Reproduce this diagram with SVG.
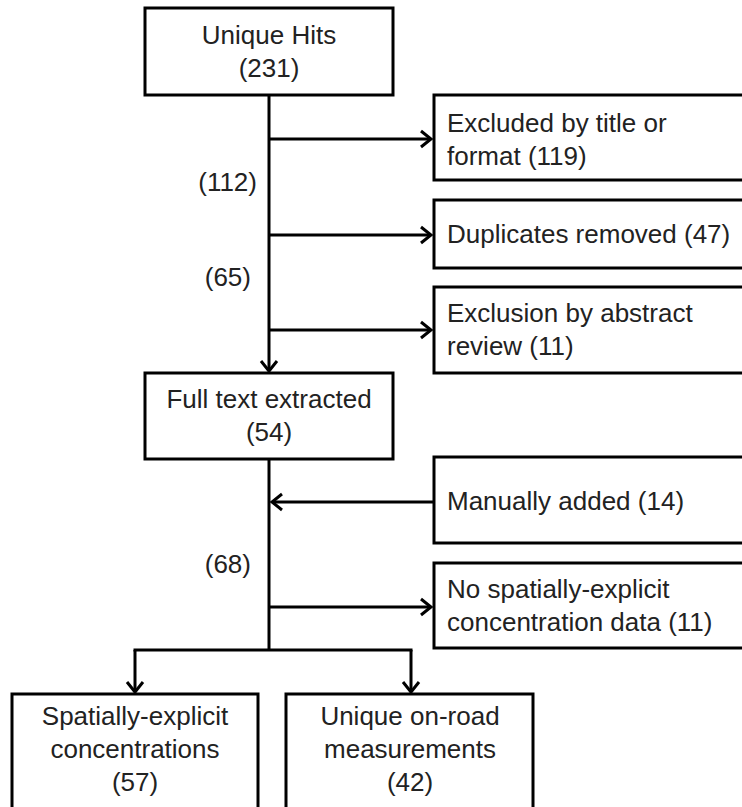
<svg xmlns="http://www.w3.org/2000/svg" width="742" height="807" viewBox="0 0 742 807">
<defs>
<style>
.box{fill:#fff;stroke:#000;stroke-width:3}
.ln{fill:none;stroke:#000;stroke-width:3}
text{font-family:"Liberation Sans",Arial,sans-serif;font-size:26px;fill:#222}
.c{text-anchor:middle}
.r{text-anchor:end}
</style>
<marker id="ah" markerUnits="userSpaceOnUse" markerWidth="20" markerHeight="20" refX="12" refY="10" orient="auto">
<polyline points="2,2 12,10 2,18" fill="none" stroke="#000" stroke-width="3"/>
</marker>
</defs>
<rect width="742" height="807" fill="#fff"/>
<g id="connectors">
<line class="ln" x1="269" y1="95" x2="269" y2="371" marker-end="url(#ah)"/>
<line class="ln" x1="269" y1="139" x2="431" y2="139" marker-end="url(#ah)"/>
<line class="ln" x1="269" y1="235" x2="431" y2="235" marker-end="url(#ah)"/>
<line class="ln" x1="269" y1="330" x2="431" y2="330" marker-end="url(#ah)"/>
<line class="ln" x1="269" y1="459" x2="269" y2="651"/>
<line class="ln" x1="434" y1="502" x2="272" y2="502" marker-end="url(#ah)"/>
<line class="ln" x1="269" y1="607" x2="431" y2="607" marker-end="url(#ah)"/>
<line class="ln" x1="133.5" y1="650" x2="412.5" y2="650"/>
<line class="ln" x1="135" y1="650" x2="135" y2="692" marker-end="url(#ah)"/>
<line class="ln" x1="411" y1="650" x2="411" y2="692" marker-end="url(#ah)"/>
<text class="r" x="257" y="191">(112)</text>
<text class="r" x="251" y="286">(65)</text>
<text class="r" x="251" y="573">(68)</text>
</g>
<g id="unique-hits">
<rect class="box" x="145" y="8" width="248" height="87"/>
<text class="c" x="269" y="44">Unique Hits</text>
<text class="c" x="269" y="77">(231)</text>
</g>
<g id="excluded-title">
<rect class="box" x="434" y="95" width="320" height="85"/>
<text x="447" y="132">Excluded by title or</text>
<text x="447" y="165">format (119)</text>
</g>
<g id="duplicates">
<rect class="box" x="434" y="200" width="320" height="68"/>
<text x="447" y="243">Duplicates removed (47)</text>
</g>
<g id="exclusion-abstract">
<rect class="box" x="434" y="287" width="320" height="86"/>
<text x="447" y="322">Exclusion by abstract</text>
<text x="447" y="355">review (11)</text>
</g>
<g id="full-text">
<rect class="box" x="145" y="373" width="248" height="86"/>
<text class="c" x="269" y="408">Full text extracted</text>
<text class="c" x="269" y="441">(54)</text>
</g>
<g id="manually-added">
<rect class="box" x="434" y="457" width="320" height="86"/>
<text x="447" y="510">Manually added (14)</text>
</g>
<g id="no-spatial">
<rect class="box" x="434" y="563" width="320" height="85"/>
<text x="447" y="598">No spatially-explicit</text>
<text x="447" y="631">concentration data (11)</text>
</g>
<g id="spatially-explicit">
<rect class="box" x="12" y="694" width="246" height="116"/>
<text class="c" x="135" y="725">Spatially-explicit</text>
<text class="c" x="135" y="758">concentrations</text>
<text class="c" x="135" y="791">(57)</text>
</g>
<g id="on-road">
<rect class="box" x="286" y="694" width="247" height="116"/>
<text class="c" x="410" y="725">Unique on-road</text>
<text class="c" x="410" y="758">measurements</text>
<text class="c" x="410" y="791">(42)</text>
</g>
</svg>
